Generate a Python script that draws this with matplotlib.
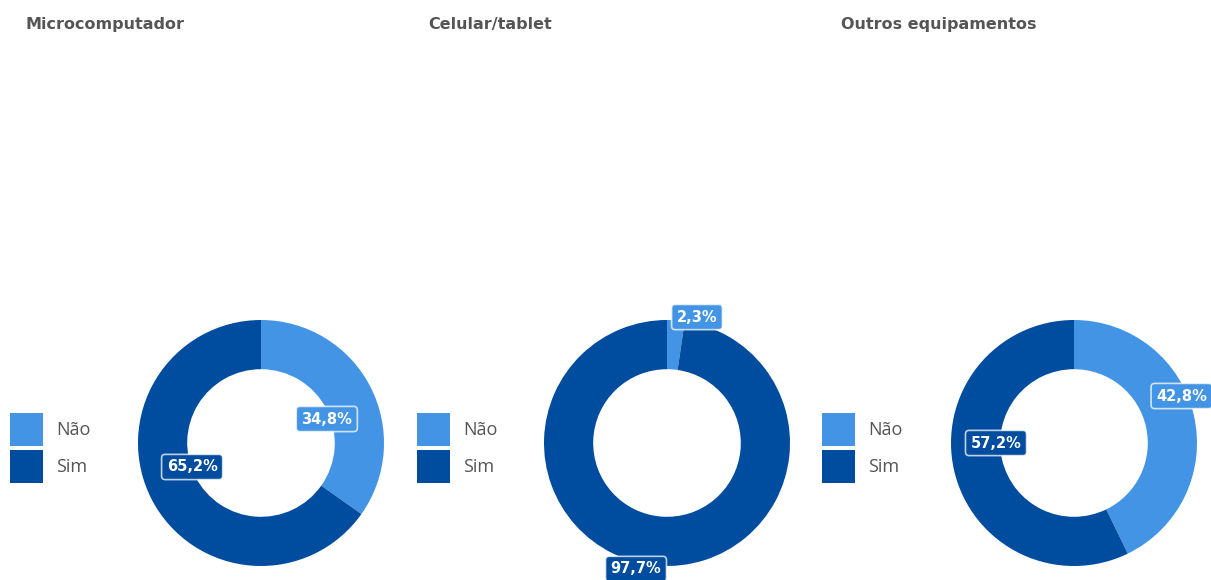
import matplotlib
matplotlib.use("Agg")
import matplotlib.pyplot as plt
from matplotlib.patches import Patch

# Data
titles = ["Microcomputador", "Celular/tablet", "Outros equipamentos"]
categories = ["Não", "Sim"]
nao_values = [34.8, 2.3, 42.8]
sim_values = [65.2, 97.7, 57.2]

# Label offsets from the donut center, in units of outer radius
label_offsets = [
    [(0.535, 0.195), (-0.56, -0.195)],
    [(0.244, 1.024), (-0.252, -1.024)],
    [(0.875, 0.382), (-0.634, 0.0)],
]

colors = ["#4394E5", "#004C9E"]
text_gray = "#555555"

W, H = 1211, 580
fig = plt.figure(figsize=(W / 100, H / 100), dpi=100)
fig.patch.set_facecolor("white")

centers_x = [261, 667, 1074]
center_y = 443
radius_px = 123
title_x = [25, 428, 841]
legend_x = [10, 417, 822]


def fmt(v):
    return f"{v:.1f}%".replace(".", ",")


for i in range(3):
    cx = centers_x[i]
    ax = fig.add_axes([(cx - radius_px) / W, (H - center_y - radius_px) / H,
                       2 * radius_px / W, 2 * radius_px / H])
    vals = [nao_values[i], sim_values[i]]
    ax.pie(vals, colors=colors, startangle=90, counterclock=False, radius=1,
           wedgeprops=dict(width=0.4, linewidth=0))
    ax.set_xlim(-1, 1)
    ax.set_ylim(-1, 1)
    ax.set_aspect("equal")
    ax.axis("off")

    for j, v in enumerate(vals):
        dx, dy = label_offsets[i][j]
        ax.text(dx, dy, fmt(v), ha="center", va="center", color="white",
                fontsize=10.5, fontweight="bold", family="DejaVu Sans",
                bbox=dict(boxstyle="round,pad=0.35,rounding_size=0.25",
                          facecolor=colors[j], edgecolor=(1, 1, 1, 0.75),
                          linewidth=1.2),
                clip_on=False)

    fig.text(title_x[i] / W, 1 - 24 / H, titles[i], ha="left", va="center",
             fontsize=11.5, fontweight="bold", color=text_gray,
             family="DejaVu Sans")

    handles = [Patch(facecolor=c, edgecolor="none") for c in colors]
    fig.legend(handles, categories, loc="center left",
               bbox_to_anchor=(legend_x[i] / W, 1 - 448 / H),
               frameon=False, handlelength=1.83, handleheight=2.43,
               labelspacing=0.19, handletextpad=0.72, borderpad=0,
               borderaxespad=0, prop=dict(family="Open Sans", size=13),
               labelcolor=text_gray)

fig.savefig("out.png", dpi=100, facecolor="white")
